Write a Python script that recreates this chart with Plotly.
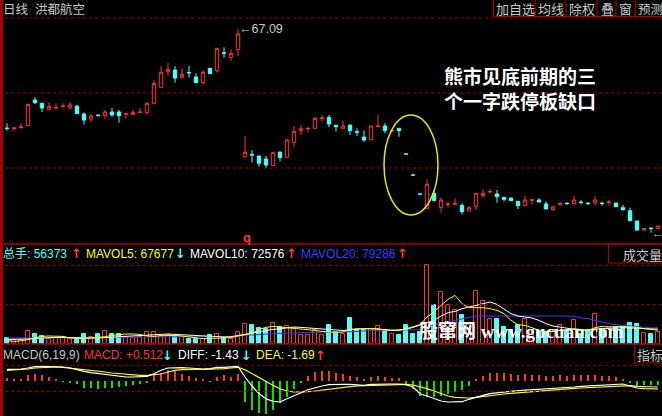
import plotly.graph_objects as go

W, H = 662, 416

# ------------------------------------------------------------------ data
period_label = "日线"
stock_name = "洪都航空"

open_ = [47.29, 47.17, 47.37, 47.75, 52.89, 52.23, 50.95, 51.29, 51.57, 51.35,
         51.63, 50.09, 49.09, 49.85, 49.75, 50.49, 50.49, 50.03, 50.03, 50.37,
         50.43, 52.23, 55.43, 58.55, 58.89, 57.35, 58.39, 57.49, 56.35, 59.23,
         58.75, 62.33, 61.43, 62.95, 41.55, 41.99, 41.69, 41.09, 39.75, 42.49,
         41.43, 44.35, 46.75, 47.09, 47.23, 49.17, 49.43, 47.83, 47.15, 47.89,
         46.53, 45.49, 44.95, 47.57, 47.69, 46.69, 47.23, 42.10, 37.89, 34.10,
         31.23, 34.23, 31.43, 31.97, 31.95, 31.83, 30.69, 31.55, 33.75, 34.49,
         34.09, 33.43, 33.29, 32.63, 31.75, 32.83, 32.89, 32.09, 30.95, 32.03,
         32.27, 32.15, 32.47, 32.27, 32.35, 32.27, 32.39, 32.29, 31.35, 30.75,
         28.69, 26.89, 27.29, 27.15]

high = [48.23, 47.55, 48.23, 52.09, 53.43, 52.23, 52.43, 52.23, 52.23, 52.49,
        51.95, 50.43, 50.09, 50.09, 50.89, 51.29, 50.89, 50.35, 50.89, 51.29,
        52.55, 56.83, 59.63, 60.29, 59.69, 59.23, 59.69, 58.23, 58.89, 59.23,
        63.23, 63.43, 63.03, 67.09, 45.69, 42.89, 41.69, 41.69, 42.49, 42.49,
        45.15, 47.69, 47.89, 47.55, 49.55, 49.89, 49.89, 47.83, 48.69, 47.89,
        47.23, 46.83, 47.69, 49.89, 48.23, 47.09, 47.23, 42.10, 37.89, 34.10,
        37.03, 34.89, 33.43, 32.55, 33.23, 32.23, 31.69, 34.23, 35.03, 35.03,
        34.89, 33.43, 33.29, 32.63, 33.69, 33.15, 33.29, 32.63, 31.75, 32.49,
        32.39, 33.69, 32.89, 32.49, 33.69, 32.49, 32.95, 32.29, 31.89, 31.35,
        28.69, 27.29, 27.29, 27.69]

low = [46.75, 46.75, 47.15, 47.75, 52.09, 50.49, 50.95, 51.09, 51.35, 51.03,
       50.15, 47.95, 48.43, 49.55, 49.15, 49.55, 48.35, 49.15, 49.89, 50.35,
       49.89, 52.23, 55.43, 57.75, 56.35, 57.35, 57.35, 56.35, 55.95, 58.15,
       58.35, 61.35, 60.75, 61.69, 41.43, 40.35, 39.55, 39.23, 39.75, 40.63,
       41.43, 43.43, 45.95, 46.49, 47.23, 48.55, 47.43, 46.55, 47.15, 45.89,
       45.69, 44.55, 44.95, 47.43, 46.23, 46.43, 45.55, 42.08, 37.87, 34.08,
       31.23, 32.75, 30.35, 31.43, 31.95, 30.03, 30.69, 30.89, 33.35, 34.29,
       32.35, 32.55, 32.75, 31.09, 31.75, 31.95, 32.49, 31.09, 30.75, 31.75,
       31.89, 32.15, 32.03, 31.89, 31.83, 31.75, 31.89, 31.55, 30.75, 28.75,
       26.69, 26.79, 26.35, 27.15]

close = [47.17, 47.29, 47.49, 52.03, 52.35, 51.29, 51.63, 51.39, 51.67, 51.89,
         50.15, 48.89, 49.69, 49.79, 50.49, 49.89, 49.75, 50.13, 50.43, 50.47,
         52.23, 56.23, 58.43, 59.03, 57.29, 58.03, 58.31, 56.35, 58.43, 58.15,
         63.23, 62.25, 62.23, 66.09, 42.43, 41.89, 40.23, 39.89, 42.35, 41.35,
         44.89, 46.63, 47.15, 47.19, 49.23, 49.27, 48.09, 47.55, 47.69, 46.75,
         46.45, 44.89, 47.69, 47.67, 46.75, 46.79, 46.75, 42.08, 37.87, 34.08,
         36.03, 32.75, 32.89, 32.07, 32.23, 30.55, 31.35, 34.23, 34.23, 34.59,
         33.55, 33.03, 32.75, 31.75, 32.89, 32.93, 32.49, 31.09, 31.49, 32.13,
         32.19, 32.89, 32.39, 32.19, 32.89, 32.19, 32.49, 31.55, 30.95, 28.75,
         26.89, 27.19, 27.19, 27.69]

volume = [26500, 16500, 20000, 63500, 50000, 38500, 25000, 30000, 33500, 21500,
          28500, 46500, 33500, 46500, 65000, 50000, 50000, 33500, 30000, 33500,
          58500, 58500, 40000, 41500, 38500, 33500, 21500, 25000, 21500, 43500,
          50000, 28500, 21500, 58500, 98500, 95000, 78500, 75000, 103500, 81500,
          86500, 76500, 45000, 43500, 66500, 45000, 95000, 58500, 50000, 128500,
          68500, 66500, 75000, 86500, 70000, 50000, 45000, 95000, 50000, 60000,
          391500, 195000, 257500, 195000, 167500, 145000, 100000, 262500, 212500, 122500,
          125000, 83500, 66500, 91500, 121500, 66500, 58500, 58500, 66500, 91500,
          66500, 120000, 50000, 66500, 146500, 75000, 83500, 83500, 78500, 103500,
          98500, 53500, 50000, 56373]

mavol5 = [15000, 11500, 15000, 20000, 30000, 36500, 38500, 38500, 36500, 28500,
          25000, 25000, 28500, 30000, 35000, 41500, 46500, 48500, 48500, 46500,
          38500, 36500, 40000, 41500, 41500, 38500, 33500, 28500, 25000, 26500,
          28500, 28500, 30000, 38500, 45000, 51500, 71500, 81500, 86500, 83500,
          81500, 78500, 75000, 71500, 66500, 61500, 58500, 56500, 58500, 71500,
          75000, 75000, 78500, 75000, 68500, 66500, 66500, 75000, 83500, 95000,
          133500, 158500, 191500, 221500, 241500, 200000, 180000, 180000, 180000, 175000,
          166500, 150000, 116500, 95000, 91500, 80000, 66500, 61500, 61500, 66500,
          66500, 75000, 70000, 66500, 80000, 86500, 83500, 86500, 86500, 83500,
          81500, 75000, 70000, 67677]

mavol10 = [21500, 21500, 21500, 23500, 26500, 28500, 31500, 31500, 31500, 30000,
           28500, 28500, 28500, 28500, 28500, 31500, 35000, 36500, 38500, 38500,
           40000, 43500, 46500, 48500, 46500, 43500, 41500, 40000, 38500, 36500,
           35000, 33500, 35000, 40000, 45000, 53500, 60000, 66500, 71500, 75000,
           80000, 83500, 81500, 78500, 75000, 71500, 70000, 68500, 66500, 70000,
           71500, 75000, 75000, 73500, 70000, 66500, 68500, 71500, 81500, 91500,
           105000, 116500, 138500, 155000, 161500, 175000, 183500, 195000, 201500, 208500,
           196500, 175000, 150000, 138500, 133500, 128500, 116500, 100000, 88500, 83500,
           75000, 70000, 66500, 66500, 73500, 75000, 75000, 78500, 80000, 78500,
           76500, 75000, 71500, 72576]

mavol20 = [28500, 28500, 28000, 28000, 27500, 27500, 27500, 27500, 28000, 28000,
           28500, 29000, 29500, 30000, 31000, 31500, 32000, 32500, 33500, 34000,
           35000, 35500, 36000, 36500, 36500, 36500, 36500, 36500, 36500, 36500,
           36500, 36000, 35000, 37000, 41500, 44000, 46500, 48500, 50500, 52000,
           53500, 54000, 54500, 55000, 55000, 55000, 56000, 56500, 57500, 58500,
           61000, 64000, 66500, 66500, 66500, 66500, 66500, 66500, 66500, 70000,
           83500, 92500, 102500, 108500, 116500, 125000, 133500, 138500, 138500, 138500,
           138500, 140000, 141500, 141500, 141500, 141500, 141500, 141500, 141500, 141500,
           138500, 136500, 128500, 125000, 116500, 108500, 100000, 95000, 91500, 86500,
           83500, 80000, 79500, 79286]

diff = [2.34, 2.34, 2.40, 2.60, 2.86, 2.94, 2.94, 2.86, 2.80, 2.60,
        2.34, 1.94, 1.66, 1.46, 1.34, 1.14, 0.94, 0.80, 0.80, 0.80,
        0.94, 1.46, 2.14, 2.60, 2.66, 2.66, 2.60, 2.46, 2.40, 2.46,
        2.74, 2.74, 2.80, 2.94, 0.80, -1.00, -2.54, -3.54, -4.06, -4.20,
        -3.54, -2.86, -2.34, -1.74, -1.34, -1.00, -0.74, -0.66, -0.66, -0.66,
        -0.74, -0.86, -0.66, -0.60, -0.60, -0.60, -0.60, -0.74, -1.20, -2.54,
        -3.00, -3.54, -4.00, -4.20, -4.20, -4.14, -3.66, -3.20, -2.86, -2.54,
        -2.34, -2.20, -2.06, -1.94, -1.86, -1.74, -1.60, -1.54, -1.54, -1.40,
        -1.26, -1.20, -1.06, -1.00, -0.86, -0.80, -0.74, -0.66, -0.60, -1.00,
        -1.40, -1.54, -1.60, -1.60]

dea = [2.14, 2.20, 2.26, 2.40, 2.60, 2.66, 2.80, 2.80, 2.74, 2.60,
       2.46, 2.26, 2.14, 1.94, 1.80, 1.60, 1.46, 1.34, 1.20, 1.14,
       1.14, 1.20, 1.40, 1.80, 2.14, 2.26, 2.34, 2.34, 2.34, 2.34,
       2.40, 2.46, 2.60, 2.74, 2.26, 1.46, 0.60, -0.20, -0.86, -1.54,
       -2.00, -2.20, -2.20, -2.14, -2.00, -1.80, -1.60, -1.40, -1.26, -1.14,
       -1.00, -0.94, -0.86, -0.80, -0.74, -0.66, -0.66, -0.66, -0.80, -1.14,
       -1.54, -2.00, -2.54, -3.00, -3.26, -3.40, -3.40, -3.26, -3.06, -2.86,
       -2.74, -2.60, -2.46, -2.34, -2.20, -2.06, -2.00, -1.86, -1.80, -1.66,
       -1.54, -1.46, -1.40, -1.34, -1.20, -1.14, -1.06, -1.00, -0.94, -0.94,
       -1.06, -1.14, -1.20, -1.20]

macd_bar = [0.66, 0.40, 0.26, 1.14, 1.40, 1.20, 0.84, 0.40, -0.14, -0.34,
            -0.64, -1.36, -1.44, -1.50, -1.44, -1.30, -1.20, -1.04, -0.76, -0.56,
            -0.24, 1.14, 1.56, 2.14, 1.96, 1.50, 0.96, 0.56, 0.34, -0.14,
            0.84, 1.14, 0.84, 1.44, -4.10, -5.80, -6.30, -6.60, -5.74, -4.40,
            -3.26, -1.60, -0.26, 1.00, 1.80, 2.00, 2.06, 1.66, 1.40, 1.00,
            0.80, 0.46, 0.80, 1.00, 0.80, 0.66, 0.60, -0.54, -1.64, -2.94,
            -3.10, -3.26, -2.90, -2.60, -2.26, -1.76, -1.04, 0.40, 1.10, 1.60,
            1.64, 1.56, 1.40, 1.24, 1.36, 1.30, 1.26, 1.10, 1.00, 1.20,
            1.06, 1.20, 1.14, 1.14, 1.16, 1.06, 0.94, 0.80, 0.40, -0.26,
            -0.90, -0.80, -0.84, -0.86]

day = list(range(len(close)))

high_label = "←67.09"
low_label = "←"
note_text = "熊市见底前期的三<br>个一字跌停板缺口"
watermark = "股窜网 www.gucuan.com"
toolbar = ["加自选", "均线", "除权", "叠", "窗", "预测"]
vol_header = [("总手: 56373", "cyan"), ("↑", "red"), ("MAVOL5: 67677", "yellow"), ("↓", "cyan"),
              ("MAVOL10: 72576", "white"), ("↑", "red"), ("MAVOL20: 79286", "blue"), ("↑", "red")]
macd_header = [("MACD(6,19,9)", "gray"), ("MACD: +0.512", "red"), ("↓", "cyan"),
               ("DIFF: -1.43", "white"), ("↓", "cyan"), ("DEA: -1.69", "yellow"), ("↑", "red")]

# ------------------------------------------------------------------ style
RED = "#FF3434"
CYAN = "#54FCFC"
YELLOW = "#FFFF00"
WHITE = "#FFFFFF"
BLUE = "#3C3CFF"
GREEN = "#00E400"
GRAY = "#C8C8C8"
FRAME = "#AA0000"
GRID = "#9A0000"
COL = {"red": RED, "cyan": CYAN, "yellow": YELLOW, "white": WHITE, "blue": BLUE, "gray": GRAY}

SANS = "Liberation Sans, Arial, Noto Sans CJK SC, DejaVu Sans, sans-serif"
ARROWF = "DejaVu Sans, sans-serif"
CJK = "Noto Sans CJK SC, sans-serif"


def px_x(x):
    return x / W


def px_y(y):
    return 1 - y / H


up = [c >= o for o, c in zip(open_, close)]

fig = go.Figure()

fig.add_trace(go.Candlestick(
    x=day, open=open_, high=high, low=low, close=close,
    increasing=dict(line=dict(color=RED, width=1), fillcolor="black"),
    decreasing=dict(line=dict(color=CYAN, width=1), fillcolor=CYAN),
    whiskerwidth=0, hoverinfo="skip", showlegend=False,
    xaxis="x", yaxis="y"))

fig.add_trace(go.Bar(
    x=day, y=volume, width=0.7,
    marker=dict(color=["black" if u else CYAN for u in up],
                line=dict(color=[RED if u else CYAN for u in up], width=1)),
    hoverinfo="skip", showlegend=False, xaxis="x", yaxis="y2"))

for series, colr in ((mavol20, BLUE), (mavol10, WHITE), (mavol5, YELLOW)):
    fig.add_trace(go.Scatter(x=day, y=series, mode="lines",
                             line=dict(color=colr, width=1),
                             hoverinfo="skip", showlegend=False,
                             xaxis="x", yaxis="y2"))

fig.add_trace(go.Bar(
    x=day, y=macd_bar, width=0.16,
    marker=dict(color=[RED if v >= 0 else GREEN for v in macd_bar], line=dict(width=0)),
    hoverinfo="skip", showlegend=False, xaxis="x", yaxis="y3"))

fig.add_trace(go.Scatter(x=day, y=dea, mode="lines", line=dict(color=YELLOW, width=1.2),
                         hoverinfo="skip", showlegend=False, xaxis="x", yaxis="y3"))
fig.add_trace(go.Scatter(x=day, y=diff, mode="lines", line=dict(color=WHITE, width=1.2),
                         hoverinfo="skip", showlegend=False, xaxis="x", yaxis="y3"))

shapes = []
# dotted grid lines
for yv, ref in ((69.29, "y"), (54.29, "y"), (39.29, "y"),
                (392000, "y2"), (195000, "y2"),
                (3.14, "y3"), (-2.06, "y3")):
    shapes.append(dict(type="line", xref="paper", yref=ref, x0=px_x(5), x1=1, y0=yv, y1=yv,
                       line=dict(color=GRID, width=1, dash="dot")))
# panel separators and frames
for yy in (244, 344):
    shapes.append(dict(type="line", xref="paper", yref="paper", x0=0, x1=1,
                       y0=px_y(yy), y1=px_y(yy), line=dict(color=FRAME, width=1.5)))
shapes.append(dict(type="line", xref="paper", yref="paper", x0=px_x(1.5), x1=px_x(1.5),
                   y0=0, y1=1, line=dict(color=FRAME, width=3)))
# toolbar boxes
shapes.append(dict(type="line", xref="paper", yref="paper", x0=px_x(493.5), x1=1,
                   y0=px_y(16.5), y1=px_y(16.5), line=dict(color=FRAME, width=1.2)))
for xx in (493.5, 535, 566, 597, 616, 635.3):
    shapes.append(dict(type="line", xref="paper", yref="paper", x0=px_x(xx), x1=px_x(xx),
                       y0=px_y(0), y1=px_y(16.5), line=dict(color=FRAME, width=1.2)))
# right side label boxes
shapes.append(dict(type="rect", xref="paper", yref="paper", x0=px_x(608.5), x1=px_x(665),
                   y0=px_y(263), y1=px_y(244), line=dict(color=FRAME, width=1.2)))
shapes.append(dict(type="rect", xref="paper", yref="paper", x0=px_x(634.5), x1=px_x(665),
                   y0=px_y(363), y1=px_y(344), line=dict(color=FRAME, width=1.2)))
# highlight ellipse round the three one-price limit-down days
shapes.append(dict(type="circle", xref="x", yref="y", x0=53.86, x1=61.57, y0=29.89, y1=49.89,
                   line=dict(color="#E6E600", width=1.5)))

ann = []


def text(x, y, s, color, size=12, family=SANS, anchor="left"):
    ann.append(dict(x=px_x(x), y=px_y(y), xref="paper", yref="paper", text=s, showarrow=False,
                    xanchor=anchor, yanchor="middle", font=dict(family=family, size=size, color=color),
                    borderpad=0))


text(2, 8, period_label, GRAY, 12.5, CJK)
text(34, 8, stock_name, GRAY, 12.5, CJK)
for s, xx in zip(toolbar, (495, 536.5, 567.5, 599.5, 617.5, 637)):
    text(xx, 8.5, s, GRAY, 12.5 if s == "预测" else 13, CJK)

ann.append(dict(x=33, y=67.09, xref="x", yref="y", text=high_label, showarrow=False,
                xanchor="left", yanchor="middle", borderpad=0,
                font=dict(family=SANS, size=12.5, color=GRAY)))
ann.append(dict(x=92, y=26.35, xref="x", yref="y", text=low_label, showarrow=False,
                xanchor="left", yanchor="middle", borderpad=0,
                font=dict(family=SANS, size=11, color=GRAY)))

text(242, 237, "<b>q</b>", RED, 13, SANS)

ann.append(dict(x=px_x(443), y=px_y(88), xref="paper", yref="paper", text="<b>" + note_text + "</b>",
                showarrow=False, xanchor="left", yanchor="middle", align="left", borderpad=0,
                font=dict(family=CJK, size=19, color=WHITE)))

for (s, c), xx in zip(vol_header, (2, 70, 85, 174, 189, 285, 300, 396)):
    if s in "↑↓":
        text(xx, 253.5, "<b>" + s + "</b>", COL[c], 13, ARROWF)
    else:
        text(xx, 253.5, s, COL[c], 12, SANS)
for (s, c), xx in zip(macd_header, (2, 83, 161, 177, 240, 255, 314)):
    if s in "↑↓":
        text(xx, 355, "<b>" + s + "</b>", COL[c], 13, ARROWF)
    else:
        text(xx, 355, s, COL[c], 12, SANS)

text(622, 254.5, "成交量", GRAY, 13, CJK)
text(635.5, 354.5, "指标", GRAY, 13, CJK)

WM_FONT = "Liberation Serif, Noto Sans CJK SC, serif"
text(418, 331, "<b>" + watermark + "</b>", WHITE, 19, WM_FONT)

fig.update_layout(
    width=W, height=H,
    margin=dict(l=0, r=0, t=0, b=0),
    paper_bgcolor="black", plot_bgcolor="black",
    showlegend=False, boxgap=0.3, bargap=0,
    xaxis=dict(domain=[0, 1], range=[-1, 93.571], visible=False, fixedrange=True,
               rangeslider=dict(visible=False)),
    yaxis=dict(domain=[1 - 243 / H, 1], range=[24.29, 72.89], visible=False, fixedrange=True),
    yaxis2=dict(domain=[1 - 343.7 / H, 1 - 244 / H], range=[0, 498500], visible=False, fixedrange=True),
    yaxis3=dict(domain=[0, 1 - 344 / H], range=[-7.0, 7.4], visible=False, fixedrange=True),
    shapes=shapes, annotations=ann,
)

fig.write_html("out.html", config={"displayModeBar": False},
               post_script="document.body.style.margin='0';document.body.style.padding='0';"
                           "document.body.style.overflow='hidden';document.body.style.background='black';")
